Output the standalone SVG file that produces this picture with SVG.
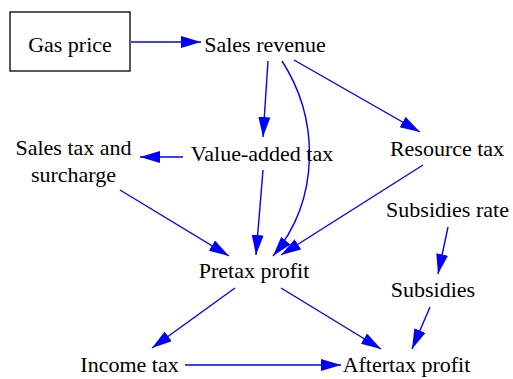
<svg xmlns="http://www.w3.org/2000/svg" width="513" height="379" viewBox="0 0 513 379">
<style>
.t{font-size:22px;fill:#000;text-anchor:middle}
.e{fill:none;stroke:#0000ff;stroke-width:1.4;marker-end:url(#ah)}
</style>
<defs>
<marker id="ah" markerUnits="userSpaceOnUse" markerWidth="22" markerHeight="14" refX="20" refY="6" orient="auto" viewBox="0 0 22 14">
<path d="M0,0 L20,6 L0,12 z" fill="#0000ff"/>
</marker>
</defs>
<rect width="513" height="379" fill="#fff"/>
<g id="edges">
<path class="e" d="M131,42 L201,42"/>
<path class="e" d="M268,61 L263,137"/>
<path class="e" d="M282,61 C320,120 320,200 273,256"/>
<path class="e" d="M294,60 L420,132"/>
<path class="e" d="M183,157 L140,157"/>
<path class="e" d="M120,190 L229,256"/>
<path class="e" d="M263,170 L256,255"/>
<path class="e" d="M423,165 L281,255"/>
<path class="e" d="M448,227 L438,274"/>
<path class="e" d="M235,288 L152,348"/>
<path class="e" d="M281,288 L381,349"/>
<path class="e" d="M430,307 L412,349"/>
<path class="e" d="M185,365 L341,365"/>
</g>
<g class="t" font-family="Liberation Serif, DejaVu Serif, serif">
<g id="gas-price"><rect x="10" y="12" width="120" height="59" fill="none" stroke="#000" stroke-width="1.3"/><text x="70" y="52">Gas price</text></g>
<g id="sales-revenue"><text x="265" y="52">Sales revenue</text></g>
<g id="value-added-tax"><text x="262" y="161">Value-added tax</text></g>
<g id="sales-tax"><text x="73.5" y="155">Sales tax and</text><text x="73.5" y="182">surcharge</text></g>
<g id="resource-tax"><text x="447" y="156">Resource tax</text></g>
<g id="subsidies-rate"><text x="447.5" y="217">Subsidies rate</text></g>
<g id="pretax-profit"><text x="254" y="278">Pretax profit</text></g>
<g id="subsidies"><text x="433" y="297">Subsidies</text></g>
<g id="income-tax"><text x="129.5" y="372">Income tax</text></g>
<g id="aftertax-profit"><text x="406.5" y="372">Aftertax profit</text></g>
</g>
</svg>
